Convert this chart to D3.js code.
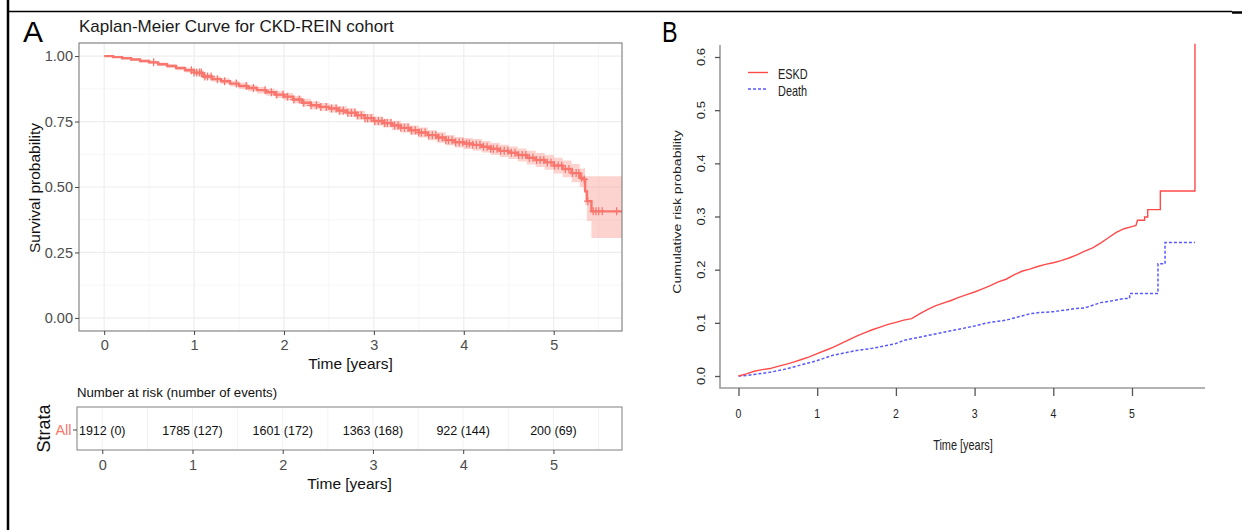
<!DOCTYPE html>
<html>
<head>
<meta charset="utf-8">
<script src="https://cdn.jsdelivr.net/npm/d3@7"></script>
<style>
  body { margin: 0; background: #fff; }
  svg { display: block; }
  text { font-family: "Liberation Sans", Arial, Helvetica, sans-serif; }
</style>
</head>
<body>
<svg id="fig" width="1242" height="530"></svg>
<script>
// ---- Panel A: Kaplan-Meier estimate (years, survival, 95% CI) ----
const kmTime  = [0.0,0.1,0.2,0.3,0.4,0.5,0.6,0.7,0.8,0.9,1.0,1.1,1.2,1.3,1.4,1.5,1.6,1.7,1.8,1.9,2.0,2.1,2.2,2.3,2.4,2.5,2.6,2.7,2.8,2.9,3.0,3.1,3.2,3.3,3.4,3.5,3.6,3.7,3.8,3.9,4.0,4.1,4.2,4.3,4.4,4.5,4.6,4.7,4.8,4.9,5.0,5.1,5.2,5.29,5.33,5.35,5.37,5.42,5.76];
const kmSurv  = [1.000,0.996,0.992,0.987,0.981,0.976,0.969,0.962,0.954,0.946,0.937,0.922,0.912,0.904,0.895,0.886,0.878,0.870,0.862,0.853,0.845,0.834,0.822,0.812,0.806,0.800,0.792,0.784,0.774,0.763,0.752,0.744,0.735,0.726,0.717,0.708,0.698,0.689,0.679,0.671,0.666,0.661,0.654,0.646,0.638,0.631,0.622,0.612,0.603,0.594,0.582,0.569,0.553,0.535,0.529,0.484,0.446,0.407,0.407];
const kmLower = [1.000,0.994,0.989,0.983,0.976,0.970,0.962,0.955,0.946,0.937,0.927,0.912,0.902,0.893,0.884,0.874,0.866,0.857,0.849,0.840,0.831,0.820,0.807,0.797,0.791,0.785,0.776,0.767,0.757,0.746,0.735,0.727,0.717,0.708,0.699,0.689,0.679,0.669,0.659,0.651,0.645,0.639,0.632,0.623,0.615,0.607,0.597,0.586,0.576,0.566,0.552,0.537,0.518,0.500,0.492,0.430,0.370,0.305,0.305];
const kmUpper = [1.000,0.998,0.995,0.991,0.986,0.982,0.976,0.969,0.962,0.955,0.947,0.932,0.922,0.915,0.906,0.898,0.890,0.883,0.875,0.866,0.859,0.848,0.837,0.827,0.821,0.815,0.808,0.801,0.791,0.780,0.769,0.761,0.753,0.744,0.735,0.727,0.717,0.709,0.699,0.691,0.687,0.683,0.676,0.669,0.661,0.655,0.647,0.638,0.630,0.622,0.612,0.601,0.588,0.570,0.573,0.541,0.541,0.541,0.541];
// censoring times (years)
const censorTimes = [0.55,0.97,1.0,1.03,1.06,1.08,1.12,1.15,1.19,1.26,1.34,1.47,1.58,1.66,1.79,1.86,1.92,1.99,2.04,2.11,2.17,2.22,2.3,2.36,2.41,2.47,2.53,2.58,2.62,2.66,2.71,2.75,2.79,2.82,2.86,2.9,2.93,2.97,3.01,3.05,3.09,3.12,3.15,3.19,3.23,3.27,3.3,3.34,3.38,3.42,3.46,3.5,3.53,3.57,3.61,3.65,3.69,3.72,3.76,3.8,3.83,3.87,3.91,3.95,3.99,4.03,4.06,4.1,4.14,4.18,4.22,4.26,4.3,4.33,4.37,4.41,4.45,4.49,4.53,4.57,4.61,4.65,4.69,4.73,4.77,4.81,4.85,4.89,4.93,4.97,5.01,5.05,5.09,5.13,5.17,5.21,5.25,5.28,5.31,5.34,5.38,5.44,5.47,5.5,5.54,5.7];

// number at risk table
const riskTimes  = [0, 1, 2, 3, 4, 5];
const riskN      = [1912, 1785, 1601, 1363, 922, 200];
const riskEvents = [0, 127, 172, 168, 144, 69];

const survTicks = [0, 0.25, 0.5, 0.75, 1];
const yearTicks = [0, 1, 2, 3, 4, 5];

// ---- Panel B: cumulative incidence curves, as vertex lists (repeated time = jump) ----
const eskdTime = [0.0,0.1,0.2,0.3,0.4,0.5,0.6,0.7,0.8,0.9,1.0,1.1,1.2,1.3,1.4,1.5,1.6,1.7,1.8,1.9,2.0,2.1,2.2,2.3,2.4,2.5,2.6,2.7,2.8,2.9,3.0,3.1,3.2,3.3,3.4,3.5,3.6,3.7,3.8,3.9,4.0,4.1,4.2,4.3,4.4,4.5,4.6,4.7,4.8,4.9,5.0,5.05,5.07,5.16,5.16,5.20,5.20,5.36,5.36,5.80,5.80];
const eskdRisk = [0.000,0.004,0.009,0.012,0.014,0.018,0.022,0.026,0.031,0.036,0.042,0.048,0.054,0.061,0.068,0.075,0.081,0.087,0.092,0.097,0.101,0.105,0.108,0.117,0.125,0.132,0.137,0.142,0.148,0.153,0.158,0.164,0.170,0.177,0.182,0.190,0.197,0.201,0.206,0.210,0.213,0.217,0.222,0.228,0.235,0.241,0.250,0.260,0.270,0.277,0.281,0.283,0.293,0.293,0.299,0.299,0.313,0.313,0.348,0.348,0.625];
const deathTime = [0.0,0.1,0.2,0.3,0.4,0.5,0.6,0.7,0.8,0.9,1.0,1.1,1.2,1.3,1.4,1.5,1.6,1.7,1.8,1.9,2.0,2.1,2.2,2.3,2.4,2.5,2.6,2.7,2.8,2.9,3.0,3.1,3.2,3.3,3.4,3.5,3.6,3.7,3.8,3.9,4.0,4.1,4.2,4.3,4.4,4.5,4.6,4.7,4.8,4.9,4.97,4.97,5.33,5.33,5.42,5.42,5.80];
const deathRisk = [0.000,0.001,0.003,0.005,0.007,0.010,0.013,0.017,0.021,0.025,0.029,0.034,0.039,0.042,0.045,0.048,0.050,0.052,0.055,0.058,0.061,0.067,0.070,0.073,0.076,0.079,0.082,0.085,0.088,0.091,0.094,0.098,0.101,0.103,0.105,0.109,0.113,0.117,0.119,0.120,0.121,0.123,0.125,0.127,0.128,0.133,0.138,0.140,0.143,0.146,0.146,0.155,0.155,0.211,0.211,0.251,0.251];
const riskTicks = [0, 0.1, 0.2, 0.3, 0.4, 0.5, 0.6];
const legendLabels = ["ESKD", "Death"];

const svg = d3.select("#fig");
svg.append("rect").attr("width", 1242).attr("height", 530).attr("fill", "#fff");

// outer frame
svg.append("line").attr("x1", 8).attr("x2", 8).attr("y1", 0).attr("y2", 530)
  .attr("stroke", "#000").attr("stroke-width", 2.5);
svg.append("line").attr("x1", 8).attr("x2", 1232).attr("y1", 11.5).attr("y2", 11.5)
  .attr("stroke", "#000").attr("stroke-width", 1.5);
svg.append("line").attr("x1", 1232).attr("x2", 1242).attr("y1", 12.5).attr("y2", 12.5)
  .attr("stroke", "#000").attr("stroke-width", 2.5);

const KM = "#F8766D";

// ================= Panel A =================
const A = svg.append("g");
const xA = d3.scaleLinear().domain([-0.28, 5.76]).range([79, 622]);
const yA = d3.scaleLinear().domain([-0.05, 1.05]).range([331, 43]);

A.append("text").attr("x", 23).attr("y", 42).attr("font-size", 30).text("A");
A.append("text").attr("x", 79).attr("y", 32).attr("font-size", 17).attr("fill", "#1a1a1a")
  .text("Kaplan-Meier Curve for CKD-REIN cohort");

// grid
const gridA = A.append("g");
const minorX = d3.range(0.5, 5.76, 1);
const minorY = [0.125, 0.375, 0.625, 0.875];
gridA.selectAll(".mx").data(minorX).join("line")
  .attr("x1", d => xA(d)).attr("x2", d => xA(d)).attr("y1", 43).attr("y2", 331)
  .attr("stroke", "#f6f6f6").attr("stroke-width", 1);
gridA.selectAll(".my").data(minorY).join("line")
  .attr("y1", d => yA(d)).attr("y2", d => yA(d)).attr("x1", 79).attr("x2", 622)
  .attr("stroke", "#f6f6f6").attr("stroke-width", 1);
gridA.selectAll(".Mx").data(yearTicks).join("line")
  .attr("x1", d => xA(d)).attr("x2", d => xA(d)).attr("y1", 43).attr("y2", 331)
  .attr("stroke", "#eeeeee").attr("stroke-width", 1.2);
gridA.selectAll(".My").data(survTicks).join("line")
  .attr("y1", d => yA(d)).attr("y2", d => yA(d)).attr("x1", 79).attr("x2", 622)
  .attr("stroke", "#eeeeee").attr("stroke-width", 1.2);

const km = kmTime.map((t, i) => ({ t, s: kmSurv[i], lo: kmLower[i], hi: kmUpper[i] }));
svg.append("clipPath").attr("id", "clipA").append("rect")
  .attr("x", 79).attr("y", 43).attr("width", 543).attr("height", 288);

A.append("path").datum(km).attr("clip-path", "url(#clipA)")
  .attr("fill", KM).attr("fill-opacity", 0.32)
  .attr("d", d3.area().curve(d3.curveStepAfter).x(d => xA(d.t)).y0(d => yA(d.lo)).y1(d => yA(d.hi)));
A.append("path").datum(km).attr("clip-path", "url(#clipA)")
  .attr("fill", "none").attr("stroke", KM).attr("stroke-width", 2.4)
  .attr("d", d3.line().curve(d3.curveStepAfter).x(d => xA(d.t)).y(d => yA(d.s)));

// censoring marks
const bis = d3.bisector(d => d).right;
const survAt = t => kmSurv[Math.max(0, bis(kmTime, t) - 1)];
A.selectAll(".cens").data(censorTimes).join("path")
  .attr("d", t => {
    const cx = xA(t), cy = yA(survAt(t));
    return `M${cx - 3.8},${cy}H${cx + 3.8}M${cx},${cy - 4}V${cy + 4}`;
  })
  .attr("stroke", KM).attr("stroke-width", 1.3).attr("fill", "none");

// panel border
A.append("rect").attr("x", 79).attr("y", 43).attr("width", 543).attr("height", 288)
  .attr("fill", "none").attr("stroke", "#7a7a7a").attr("stroke-width", 1.1);

// axes
const axYA = A.append("g").attr("transform", "translate(79,0)")
  .call(d3.axisLeft(yA).tickValues(survTicks).tickFormat(d3.format(".2f")).tickSize(4).tickPadding(2));
const axXA = A.append("g").attr("transform", "translate(0,331)")
  .call(d3.axisBottom(xA).tickValues(yearTicks).tickFormat(d3.format("d")).tickSize(4).tickPadding(4.5));
[axYA, axXA].forEach(g => {
  g.select(".domain").remove();
  g.selectAll(".tick line").attr("stroke", "#444");
  g.selectAll(".tick text").attr("font-size", 14.5).attr("fill", "#4d4d4d")
    .attr("font-family", "Liberation Sans, Arial, sans-serif");
});

A.append("text").attr("x", 350.5).attr("y", 369).attr("text-anchor", "middle")
  .attr("font-size", 15.5).attr("fill", "#111").text("Time [years]");
A.append("text").attr("transform", "translate(40,188) rotate(-90)").attr("text-anchor", "middle")
  .attr("font-size", 15.5).attr("fill", "#111").text("Survival probability");

// ---- risk table ----
const xT = d3.scaleLinear().domain([-0.28, 5.76]).range([77, 622]);
const T = svg.append("g");
T.append("text").attr("x", 77).attr("y", 397).attr("font-size", 13.2).attr("fill", "#111")
  .text("Number at risk (number of events)");
T.selectAll(".tg").data(d3.range(0.5, 5.76, 1).concat(yearTicks)).join("line")
  .attr("x1", d => xT(d)).attr("x2", d => xT(d)).attr("y1", 407).attr("y2", 450)
  .attr("stroke", "#f3f3f3");
T.append("rect").attr("x", 77).attr("y", 407).attr("width", 545).attr("height", 43)
  .attr("fill", "none").attr("stroke", "#8a8a8a").attr("stroke-width", 1.1);
T.selectAll(".rn").data(riskTimes).join("text")
  .attr("x", d => xT(d)).attr("y", 434.5).attr("text-anchor", "middle")
  .attr("font-size", 12.5).attr("fill", "#111")
  .text((d, i) => `${riskN[i]} (${riskEvents[i]})`);
const axXT = T.append("g").attr("transform", "translate(0,450)")
  .call(d3.axisBottom(xT).tickValues(yearTicks).tickFormat(d3.format("d")).tickSize(4).tickPadding(5.5));
axXT.select(".domain").remove();
axXT.selectAll(".tick line").attr("stroke", "#444");
axXT.selectAll(".tick text").attr("font-size", 14.5).attr("fill", "#4d4d4d")
  .attr("font-family", "Liberation Sans, Arial, sans-serif");
T.append("line").attr("x1", 73).attr("x2", 77).attr("y1", 430).attr("y2", 430).attr("stroke", "#444");
T.append("text").attr("x", 71.5).attr("y", 435).attr("text-anchor", "end")
  .attr("font-size", 14.5).attr("fill", KM).text("All");
T.append("text").attr("transform", "translate(50,428.5) rotate(-90)").attr("text-anchor", "middle")
  .attr("font-size", 18).attr("fill", "#111").text("Strata");
T.append("text").attr("x", 349.5).attr("y", 489).attr("text-anchor", "middle")
  .attr("font-size", 15.5).attr("fill", "#111").text("Time [years]");

// ================= Panel B =================
const B = svg.append("g");
const xB = d3.scaleLinear().domain([0, 5]).range([738.5, 1132]);
const yB = d3.scaleLinear().domain([0, 0.6]).range([376, 57]);
const SX = 0.78; // narrow text width of this panel

function ntext(g, x, y, str, size, anchor, rot) {
  return g.append("text")
    .attr("transform", `translate(${x},${y}) scale(${SX},1)` + (rot ? ` rotate(${rot})` : ""))
    .attr("text-anchor", anchor || "start").attr("font-size", size).attr("fill", "#222").text(str);
}

ntext(B, 662, 42, "B", 30, "start").attr("fill", "#000");

// L-shaped box
B.append("path").attr("d", "M720,45V388H1205").attr("fill", "none")
  .attr("stroke", "#9a9a9a").attr("stroke-width", 1.6);

const axYB = B.append("g").attr("transform", "translate(720,0)")
  .call(d3.axisLeft(yB).tickValues(riskTicks).tickSize(5).tickFormat(""));
const axXB = B.append("g").attr("transform", "translate(0,388)")
  .call(d3.axisBottom(xB).tickValues(yearTicks).tickSize(8).tickFormat(""));
[axYB, axXB].forEach(g => {
  g.select(".domain").remove();
  g.selectAll(".tick line").attr("stroke", "#555").attr("stroke-width", 1.3);
});
riskTicks.forEach(v => ntext(B, 705, yB(v), d3.format(".1f")(v), 13, "middle", -90));
yearTicks.forEach(v => ntext(B, xB(v), 418, String(v), 13.5, "middle"));
ntext(B, 963, 450, "Time [years]", 14, "middle");
ntext(B, 681, 212, "Cumulative risk probability", 14, "middle", -90);

const eskd = eskdTime.map((t, i) => ({ t, v: eskdRisk[i] }));
const death = deathTime.map((t, i) => ({ t, v: deathRisk[i] }));
const lineB = d3.line().x(d => xB(d.t)).y(d => yB(d.v));
B.append("path").datum(death).attr("d", lineB).attr("fill", "none")
  .attr("stroke", "#5858ff").attr("stroke-width", 1.5).attr("stroke-dasharray", "3,2");
B.append("path").datum(eskd).attr("d", lineB).attr("fill", "none")
  .attr("stroke", "#ff4a4a").attr("stroke-width", 1.4);

// legend
const legColors = ["#ff4a4a", "#5858ff"];
const legDash = [null, "3,2"];
legendLabels.forEach((lab, i) => {
  const ly = 72.5 + i * 16.5;
  B.append("line").attr("x1", 748).attr("x2", 768).attr("y1", ly).attr("y2", ly)
    .attr("stroke", legColors[i]).attr("stroke-width", 1.4).attr("stroke-dasharray", legDash[i]);
  ntext(B, 778, ly + 6.5, lab, 14, "start");
});
</script>
</body>
</html>
